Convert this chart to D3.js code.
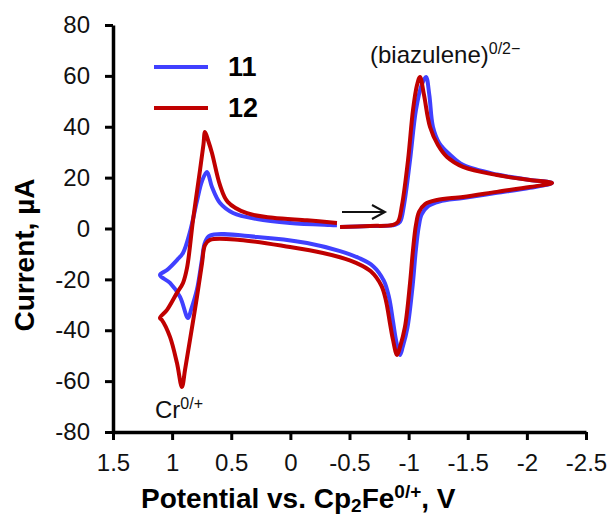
<!DOCTYPE html>
<html>
<head>
<meta charset="utf-8">
<script src="https://cdn.jsdelivr.net/npm/d3@7"></script>
<style>
  body { margin: 0; background: #fff; }
  svg { font-family: "Liberation Sans", Arial, sans-serif; }
</style>
</head>
<body>
<svg width="611" height="517"></svg>
<script>
// tick values
var potentialTicks = [1.5, 1, 0.5, 0, -0.5, -1, -1.5, -2, -2.5];
var currentTicks = [80, 60, 40, 20, 0, -20, -40, -60, -80];

// compound 11 (blue): potential (V), current (uA)
var potential11 = [-0.420, -0.673, -0.885, -0.927, -0.960, -1.012, -1.062, -1.110, -1.147, -1.175, -1.206, -1.260, -1.350, -1.460, -1.747, -2.026, -2.213,
  -2.026, -1.747, -1.460, -1.260, -1.165, -1.110, -1.085, -1.060, -1.035, -0.990, -0.950, -0.927,
  -0.893, -0.868, -0.834, -0.790, -0.700, -0.580, -0.420, -0.141, 0.282, 0.680, 0.722,
  0.747, 0.790, 0.840, 0.866, 0.933, 1.018, 1.103,
  1.043, 0.959, 0.908, 0.849, 0.790, 0.747, 0.705, 0.663, 0.595, 0.485, 0.282, 0.003, -0.335, -0.394];
var current11 = [0.6, 1.0, 1.4, 2.6, 9.0, 26.9, 46.6, 56.4, 59.6, 52.5, 39.9, 33.5, 29.0, 25.0, 21.2, 19.1, 17.9,
  16.0, 14.0, 12.0, 10.6, 8.8, 5.5, 0.5, -9.0, -22.0, -39.0, -46.6, -49.7,
  -43.8, -36.5, -27.0, -20.5, -14.8, -11.6, -8.9, -5.7, -3.3, -2.8, -5.5,
  -12.0, -24.0, -32.0, -35.2, -26.9, -21.4, -18.3,
  -16.3, -12.4, -9.6, -1.3, 10.8, 18.7, 22.2, 16.3, 10.0, 6.1, 3.7, 2.2, 1.4, 1.3];

// compound 12 (red)
var potential12 = [-0.420, -0.673, -0.868, -0.910, -0.944, -0.995, -1.037, -1.071, -1.096, -1.130, -1.181, -1.248, -1.325, -1.460, -1.747, -2.026, -2.213,
  -2.026, -1.747, -1.460, -1.240, -1.139, -1.088, -1.062, -1.037, -1.012, -0.969, -0.927, -0.902,
  -0.868, -0.843, -0.809, -0.770, -0.680, -0.560, -0.420, -0.276, 0.003, 0.426, 0.680, 0.722, 0.747,
  0.790, 0.849, 0.891, 0.917, 0.959, 1.018, 1.086, 1.103,
  1.043, 0.959, 0.908, 0.874, 0.823, 0.764, 0.735, 0.722, 0.695, 0.663, 0.595, 0.530, 0.367, 0.147, -0.141, -0.394];
var current12 = [0.6, 1.0, 1.4, 2.6, 9.2, 26.9, 46.6, 56.4, 59.6, 52.5, 39.9, 32.8, 28.1, 24.2, 21.0, 19.1, 17.9,
  16.3, 14.4, 12.4, 11.2, 9.6, 6.5, 1.4, -8.4, -21.4, -38.7, -46.6, -49.7,
  -43.8, -37.5, -28.5, -22.5, -16.8, -13.6, -11.3, -9.6, -7.3, -4.5, -4.5, -6.5, -13.6,
  -26.9, -43.8, -55.6, -62.3, -52.9, -42.6, -36.0, -35.2,
  -32.0, -25.3, -21.4, -15.5, 3.4, 23.0, 33.0, 37.9, 34.5, 29.7, 17.0, 10.5, 6.0, 4.2, 3.2, 2.2];

var svg = d3.select("svg"),
	margin = {top: 25, right: 25, bottom: 85, left: 113},
	width = 586 - margin.left,
	height = 432 - margin.top,
	g = svg.append("g").attr("transform", "translate(" + margin.left + "," + margin.top + ")");

var x = d3.scaleLinear().domain([1.5, -2.5]).range([0, width]);
var y = d3.scaleLinear().domain([-80, 80]).range([height, 0]);

var line = d3.line()
	.x(function(d) { return x(d[0]); })
	.y(function(d) { return y(d[1]); })
	.curve(d3.curveCatmullRom.alpha(0.5));

var series = [
	{name: "11", color: "#4040ff", data: d3.zip(potential11, current11)},
	{name: "12", color: "#c00000", data: d3.zip(potential12, current12)}
];

g.selectAll(".cv")
	.data(series)
	.enter().append("path")
		.attr("class", "cv")
		.attr("fill", "none")
		.attr("stroke", function(d) { return d.color; })
		.attr("stroke-width", 4)
		.attr("stroke-linejoin", "round")
		.attr("d", function(d) { return line(d.data); });

// axes
var xAxis = g.append("g")
	.attr("transform", "translate(0," + height + ")")
	.call(d3.axisBottom(x).tickValues(potentialTicks).tickSize(8).tickSizeOuter(0).tickPadding(14)
		.tickFormat(function(d) { return String(d); }));
var yAxis = g.append("g")
	.call(d3.axisLeft(y).tickValues(currentTicks).tickSize(8).tickSizeOuter(0).tickPadding(15)
		.tickFormat(function(d) { return String(d); }));

[xAxis, yAxis].forEach(function(a) {
	a.select(".domain").attr("stroke", "#000").attr("stroke-width", 3.5);
	a.selectAll(".tick line").attr("stroke", "#000").attr("stroke-width", 3);
	a.selectAll(".tick text")
		.attr("fill", "#111")
		.style("font-family", "'Liberation Sans', Arial, sans-serif")
		.style("font-size", "24px");
});

// axis titles
svg.append("text")
	.attr("transform", "translate(34,255) rotate(-90)")
	.attr("text-anchor", "middle")
	.attr("font-weight", "bold")
	.attr("font-size", 28)
	.text("Current, \u00b5A");

var xt = svg.append("text")
	.attr("x", 141)
	.attr("y", 508)
	.attr("font-weight", "bold")
	.attr("font-size", 28);
xt.append("tspan").text("Potential vs. Cp");
xt.append("tspan").attr("font-size", 19).attr("dy", 4).text("2");
xt.append("tspan").attr("dy", -4).text("Fe");
xt.append("tspan").attr("font-size", 19).attr("dy", -10).text("0/+");
xt.append("tspan").attr("dy", 10).text(", V");

// legend
var legend = svg.append("g")
	.selectAll("g")
	.data(series)
	.enter().append("g")
		.attr("transform", function(d, i) { return "translate(0," + (67 + i * 41) + ")"; });

legend.append("line")
	.attr("x1", 154)
	.attr("x2", 208)
	.attr("stroke", function(d) { return d.color; })
	.attr("stroke-width", 4);

legend.append("text")
	.attr("x", 228)
	.attr("y", 9)
	.attr("font-weight", "bold")
	.attr("font-size", 27)
	.text(function(d) { return d.name; });

// annotations
var bz = svg.append("text")
	.attr("x", 370)
	.attr("y", 63)
	.attr("font-size", 24)
	.attr("fill", "#111");
bz.append("tspan").text("(biazulene)");
bz.append("tspan").attr("font-size", 16).attr("dy", -9).text("0/2\u2212");

var cr = svg.append("text")
	.attr("x", 155)
	.attr("y", 418)
	.attr("font-size", 24)
	.attr("fill", "#111");
cr.append("tspan").text("Cr");
cr.append("tspan").attr("font-size", 16).attr("dy", -9).text("0/+");

// scan direction arrow
svg.append("path")
	.attr("d", "M342,212H385M372,205L385,212L372,219")
	.attr("fill", "none")
	.attr("stroke", "#111")
	.attr("stroke-width", 2);
</script>
</body>
</html>
